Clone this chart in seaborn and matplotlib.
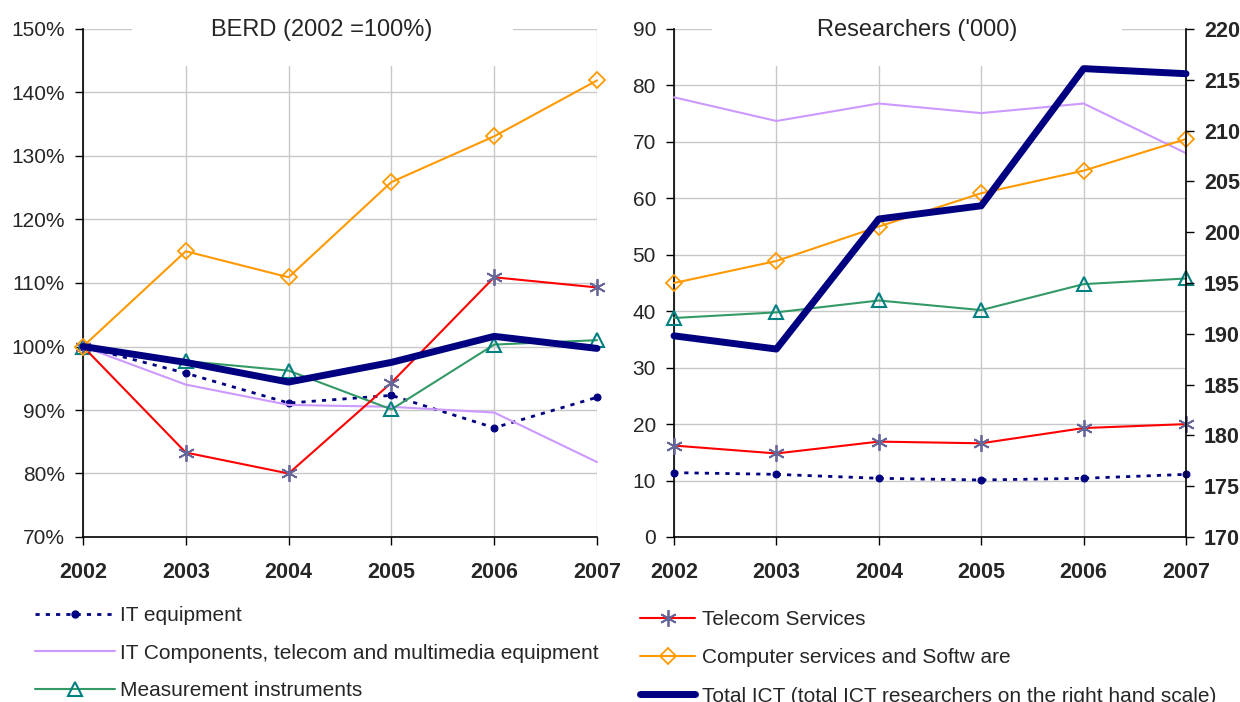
import seaborn as sns
import matplotlib.pyplot as plt
from matplotlib.patches import Rectangle
from matplotlib.ticker import FuncFormatter
from matplotlib.lines import Line2D

sns.set_style("white")
plt.rcParams['font.family'] = ['Liberation Sans', 'DejaVu Sans']

years = [2002, 2003, 2004, 2005, 2006, 2007]

# BERD, index 2002 = 100%
berd_it_equipment = [100, 95.8, 91.1, 92.3, 87.2, 92.0]
berd_it_components = [100, 94.0, 90.8, 90.5, 89.6, 81.8]
berd_measurement = [100, 97.7, 96.2, 90.1, 100.3, 101.0]
berd_telecom = [100, 83.3, 80.0, 94.3, 110.9, 109.3]
berd_computer = [100, 115.0, 110.9, 125.9, 133.1, 141.9]
berd_total = [100, 97.5, 94.4, 97.5, 101.6, 99.7]

# Researchers ('000)
res_it_equipment = [11.4, 11.1, 10.4, 10.1, 10.4, 11.1]
res_it_components = [77.9, 73.7, 76.8, 75.1, 76.8, 68.0]
res_measurement = [38.8, 39.8, 41.9, 40.2, 44.8, 45.8]
res_telecom = [16.2, 14.8, 16.9, 16.6, 19.3, 20.0]
res_computer = [45.0, 48.9, 55.0, 60.9, 64.9, 70.5]
res_total = [189.8, 188.5, 201.3, 202.6, 216.1, 215.6]  # right-hand scale

labels = ["IT equipment",
          "IT Components, telecom and multimedia equipment",
          "Measurement instruments",
          "Telecom Services",
          "Computer services and Softw are",
          "Total ICT (total ICT researchers on the right hand scale)"]

styles = [
    dict(color="#000080", lw=2, linestyle=(0, (1.5, 2.2)), marker="o", markersize=5,
         markerfacecolor="#000080", markeredgecolor="#000080"),
    dict(color="#cc99ff", lw=1.5),
    dict(color="#339966", lw=1.5, marker="^", markersize=10,
         markerfacecolor="none", markeredgecolor="#008080", markeredgewidth=1.5),
    dict(color="#ff0000", lw=1.5, marker=(6, 2, 0), markersize=12,
         markeredgecolor="#666699", markeredgewidth=1.3),
    dict(color="#ff9900", lw=1.5, marker="D", markersize=8,
         markerfacecolor="none", markeredgecolor="#ff9900", markeredgewidth=1.3),
    dict(color="#000080", lw=5),
]

fig = plt.figure(figsize=(12.4, 7.02), dpi=100)
ax1 = fig.add_axes([83 / 1240, 1 - 537 / 702, 514 / 1240, 508 / 702])
ax2 = fig.add_axes([674 / 1240, 1 - 537 / 702, 512 / 1240, 508 / 702])
ax3 = ax2.twinx()

left_series = [berd_it_equipment, berd_it_components, berd_measurement,
               berd_telecom, berd_computer, berd_total]
right_series = [res_it_equipment, res_it_components, res_measurement,
                res_telecom, res_computer]

for vals, st in zip(left_series, styles):
    sns.lineplot(x=years, y=vals, ax=ax1, zorder=3, clip_on=False, **st)
for vals, st in zip(right_series, styles[:5]):
    sns.lineplot(x=years, y=vals, ax=ax2, zorder=3, clip_on=False, **st)
sns.lineplot(x=years, y=res_total, ax=ax3, zorder=3, clip_on=False, **styles[5])

grid_kw = dict(color="#c8c8c8", lw=1)
for ax in (ax1, ax2):
    ax.set_xlim(2002, 2007)
    ax.set_xticks(years)
    ax.set_xticklabels([str(y) for y in years], fontsize=15.5, fontweight="bold")
    ax.grid(True, **grid_kw)
    ax.set_axisbelow(True)
    ax.tick_params(axis="both", direction="out", length=6, width=1, color="black",
                   labelsize=15, left=True, bottom=True)
    ax.tick_params(axis="x", pad=12, labelsize=15.5)
    ax.tick_params(axis="y", pad=7)
    for s in ("top", "right"):
        ax.spines[s].set_visible(False)
    for s in ("left", "bottom"):
        ax.spines[s].set_color("black")
        ax.spines[s].set_linewidth(1.2)

ax1.set_ylim(70, 150)
ax1.set_yticks(range(70, 151, 10))
ax1.yaxis.set_major_formatter(FuncFormatter(lambda v, p: f"{v:.0f}%"))

ax2.set_ylim(0, 90)
ax2.set_yticks(range(0, 91, 10))

ax3.set_ylim(170, 220)
ax3.set_yticks(range(170, 221, 5))
ax3.tick_params(axis="y", direction="out", length=6, width=1, color="black",
                labelsize=15.5, right=True, pad=7)
for t in ax3.get_yticklabels():
    t.set_fontweight("bold")
for s in ("top", "left", "bottom"):
    ax3.spines[s].set_visible(False)
ax3.spines["right"].set_color("black")
ax3.spines["right"].set_linewidth(1.2)
ax3.grid(False)

# title boxes sitting over the grid
for ax, x0, x1, cx, title in [
    (ax1, 0.095, 0.837, 0.465, "BERD (2002 =100%)"),
    (ax2, 0.074, 0.875, 0.475, "Researchers ('000)"),
]:
    ax.add_patch(Rectangle((x0, 0.927), x1 - x0, 0.09, transform=ax.transAxes,
                           facecolor="white", edgecolor="none", zorder=1, clip_on=False))
    ax.text(cx, 0.987, title, transform=ax.transAxes, ha="center", va="baseline",
            fontsize=17, zorder=4)

handles = [Line2D([], [], **st) for st in styles]
leg1 = fig.legend(handles[:3], labels[:3], loc="upper left",
                  bbox_to_anchor=(35 / 1240, 1 - 606 / 702), frameon=False,
                  fontsize=15, handlelength=3.85, handletextpad=0.25,
                  labelspacing=0.9, borderpad=0, borderaxespad=0)
leg2 = fig.legend(handles[3:], labels[3:], loc="upper left",
                  bbox_to_anchor=(640 / 1240, 1 - 610 / 702), frameon=False,
                  fontsize=15, handlelength=2.65, handletextpad=0.33,
                  labelspacing=0.93, borderpad=0, borderaxespad=0)

fig.savefig("out.png", dpi=100)
